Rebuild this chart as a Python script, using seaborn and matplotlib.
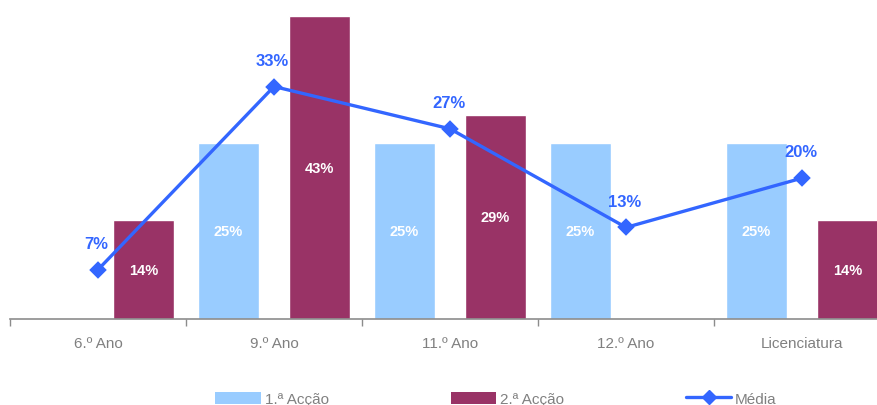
import matplotlib
matplotlib.use("Agg")
import matplotlib.pyplot as plt
import seaborn as sns
import pandas as pd
from matplotlib.patches import Patch
from matplotlib.lines import Line2D

sns.set_theme(style="white")
plt.rcParams['font.family'] = ['Liberation Sans', 'DejaVu Sans']

categories = ["6.º Ano", "9.º Ano", "11.º Ano", "12.º Ano", "Licenciatura"]
accao1 = [0, 25, 25, 25, 25]
accao2 = [14, 43, 29, 0, 14]
media = [7, 33, 27, 13, 20]
series_names = ["1.ª Acção", "2.ª Acção", "Média"]

LIGHT = "#99CCFF"
MAROON = "#993366"
BLUE = "#3366FF"
GREY = "#808080"

df = pd.DataFrame({
    "Ano": categories * 2,
    "Grupo": [series_names[0]] * 5 + [series_names[1]] * 5,
    "Valor": accao1 + accao2,
})

fig = plt.figure(figsize=(8.78, 4.06), dpi=100)
ax = fig.add_axes([10 / 878, 86 / 406, 880 / 878, 317 / 406])

sns.barplot(data=df, x="Ano", y="Valor", hue="Grupo", palette=[LIGHT, MAROON],
            width=1.035, gap=0.333, saturation=1, legend=False, ax=ax)

# value labels inside bars
for cont in ax.containers:
    labels = [f"{int(b.get_height())}%" if b.get_height() > 0 else "" for b in cont]
    ax.bar_label(cont, labels=labels, label_type="center", color="white",
                 fontsize=10.5, fontweight="bold")

# media line
sns.pointplot(x=categories, y=media, color=BLUE, markers="D", markersize=7.5,
              linewidth=2.4, ax=ax)
for i, v in enumerate(media):
    ax.annotate(f"{v}%", (i, v), xytext=(-1, 19), textcoords="offset points",
                ha="center", va="center", color=BLUE, fontsize=12, fontweight="bold")

ax.set_ylim(0, 45)
ax.set_xlim(-0.5, 4.5)
ax.set_yticks([])
ax.set_xlabel("")
ax.set_ylabel("")
for s in ["left", "top", "right"]:
    ax.spines[s].set_visible(False)
ax.spines["bottom"].set_color("#8c8c8c")
ax.spines["bottom"].set_linewidth(1.2)

ax.set_xticks(range(len(categories)))
ax.set_xticklabels(categories)
ax.set_xticks([i - 0.5 for i in range(len(categories) + 1)], minor=True)
ax.tick_params(axis="x", which="major", length=0, pad=12, labelsize=11, labelcolor=GREY)
ax.tick_params(axis="x", which="minor", length=5, width=1, color="#8c8c8c", direction="out", bottom=True)

handles = [
    Patch(facecolor=LIGHT, edgecolor="none"),
    Patch(facecolor=MAROON, edgecolor="none"),
    Line2D([0], [0], color=BLUE, lw=2.4, marker="D", markersize=7.5),
]
fig.legend(handles, series_names, loc="center", bbox_to_anchor=(0.565, 0.015), ncol=3,
           frameon=False, handlelength=2.95, handleheight=0.8, columnspacing=8.0,
           handletextpad=0.26, fontsize=11, labelcolor=GREY)

fig.savefig("out.png", dpi=100)
